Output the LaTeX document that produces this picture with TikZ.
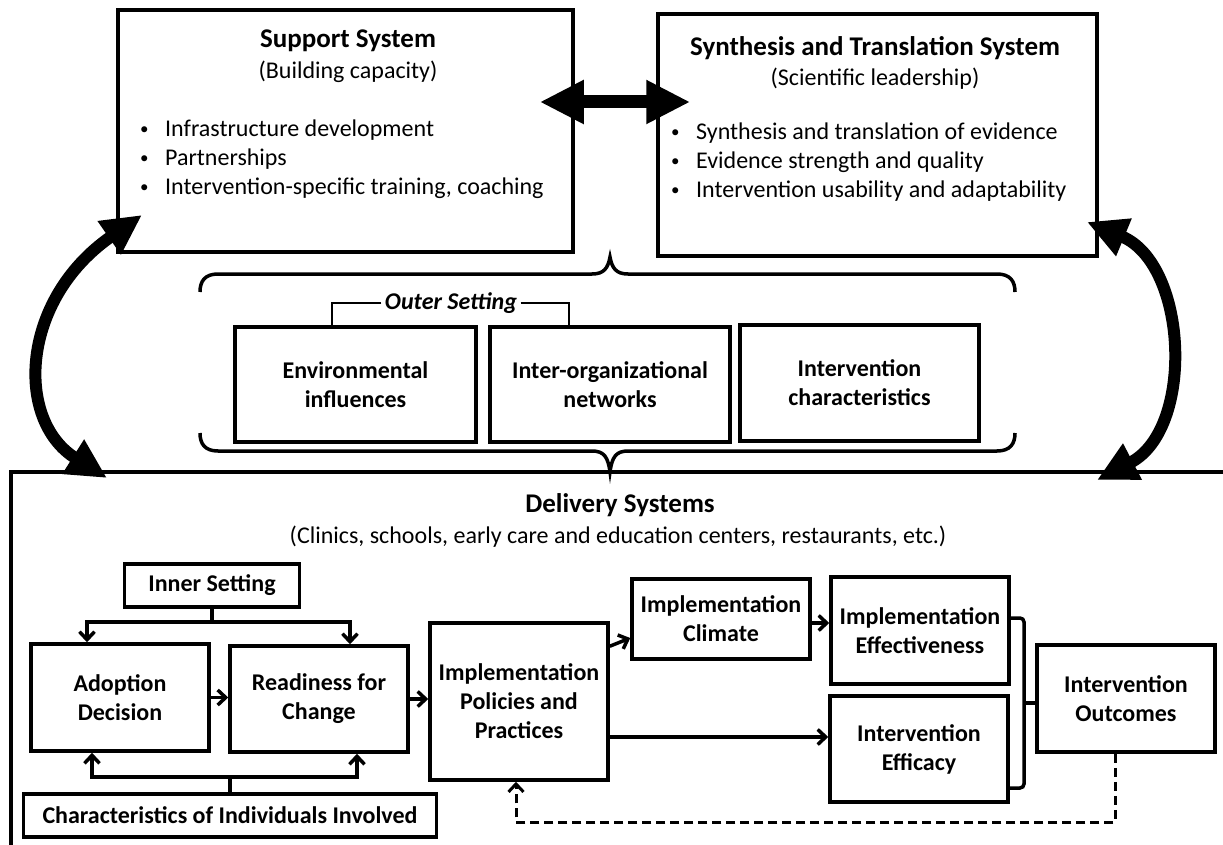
\documentclass[tikz,border=0pt]{standalone}
\usepackage{fontspec}
\setmainfont{Carlito}
\usetikzlibrary{arrows.meta}
\newcommand\myBody{\fontsize{24}{29}\selectfont}
\newcommand\myTitle{\bfseries\fontsize{27}{32}\selectfont}
\newcommand\myBul{\raisebox{2pt}{\fontsize{17}{17}\selectfont •}\hspace{16.5pt}}
\begin{document}
\begin{tikzpicture}[x=1pt,y=-1pt,
  bigbox/.style={draw,line width=3.5pt,inner sep=0pt},
  box/.style={draw,line width=3.5pt,inner sep=0pt,align=center,font=\bfseries\myBody},
  bul/.style={anchor=west,align=left,inner sep=0pt,font=\myBody},
  ln/.style={line width=3.5pt},
  arr/.style={line width=3.5pt,-{Straight Barb[length=8pt,width=15pt]}},
  dsh/.style={line width=3pt,dash pattern=on 9pt off 5pt,-{Straight Barb[length=8pt,width=15pt]}},
  hbl/.style={line width=13pt,{Triangle[length=44pt,width=41pt]}-{Triangle[length=44pt,width=41pt]}},
  cbl/.style={line width=12pt,{Triangle[length=40pt,width=38pt]}-{Triangle[length=40pt,width=38pt]}},
  brc/.style={line width=3.5pt},
]
\useasboundingbox (0,0) rectangle (1223,845);

% top boxes
\node[bigbox, minimum width=455pt, minimum height=242pt] (sup) at (345.5,131) {};
\node[font=\myTitle] (suptitle) at (348,41) {Support System};
\node[font=\myBody] (supsub) at (348,72) {(Building capacity)};
\node[bul] (suplist) at (140,159) {\myBul Infrastructure development\\ \myBul Partnerships\\ \myBul Intervention-specific training, coaching};

\node[bigbox, minimum width=439pt, minimum height=242pt] (syn) at (877.5,135) {};
\node[font=\myTitle] (syntitle) at (875,48) {Synthesis and Translation System};
\node[font=\myBody] (synsub) at (875,79) {(Scientific leadership)};
\node[bul] (synlist) at (671,162.5) {\myBul Synthesis and translation of evidence\\ \myBul Evidence strength and quality\\ \myBul Intervention usability and adaptability};

\coordinate (dy) at (615,102);
\draw[hbl, shorten <=-35pt, shorten >=-34pt] (sup.east |- dy) -- (syn.west |- dy);

% braces
\draw[brc] (200,292) .. controls (200,281) and (205,274) .. (218,274) -- (592,274)
  .. controls (604,274) and (608,268) .. (610,257)
  .. controls (612,268) and (616,274) .. (628,274) -- (997,274)
  .. controls (1010,274) and (1015,281) .. (1015,292);
\draw[brc] (200,433) .. controls (200,444) and (205,451) .. (218,451) -- (592,451)
  .. controls (604,451) and (608,457) .. (610,472)
  .. controls (612,457) and (616,451) .. (628,451) -- (997,451)
  .. controls (1010,451) and (1015,444) .. (1015,433);

% outer setting
\node[box, minimum width=241pt, minimum height=115pt] (env) at (355.5,384.5) {Environmental\\influences};
\node[box, minimum width=240pt, minimum height=115pt] (inter) at (610,384.5) {Inter-organizational\\networks};
\node[box, minimum width=239pt, minimum height=116pt] (ichar) at (859.5,383) {Intervention\\characteristics};
\node[font=\bfseries\itshape\myBody] (outer) at (451,303) {Outer Setting};
\draw[line width=2pt] (outer.west) -| ([xshift=-23.5pt]env.north);
\draw[line width=2pt] (outer.east) -| ([xshift=-41pt]inter.north);

% delivery
\draw[ln] (11,845) -- (11,472) -- (1223,472);
\node[font=\myTitle] (deltitle) at (620,505) {Delivery Systems};
\node[font=\myBody] (delsub) at (618,537) {(Clinics, schools, early care and education centers, restaurants, etc.)};

% curved arrows
\coordinate (lt) at (142,215);
\coordinate (lb) at (107,478);
\draw[cbl] (lb) .. controls (15,420) and (20,300) .. (lt);
\coordinate (rt) at (1087,222);
\coordinate (rb) at (1097,480);
\draw[cbl] (rb) .. controls (1195,429) and (1188,264) .. (rt);

% delivery nodes
\node[box, minimum width=175pt, minimum height=43pt] (inner) at (212,585.5) {Inner Setting};
\node[box, minimum width=178pt, minimum height=107pt] (adopt) at (120,697.5) {Adoption\\Decision};
\node[box, minimum width=178pt, minimum height=106pt] (ready) at (319,699) {Readiness for\\Change};
\node[box, minimum width=178pt, minimum height=157pt] (pol) at (519,701.5) {Implementation\\Policies and\\Practices};
\node[box, minimum width=413pt, minimum height=43pt] (chars) at (230,815.5) {Characteristics of Individuals Involved};
\node[box, minimum width=178pt, minimum height=80pt] (clim) at (721,619) {Implementation\\Climate};
\node[box, minimum width=178pt, minimum height=107pt] (effect) at (920,630.5) {Implementation\\Effectiveness};
\node[box, minimum width=178pt, minimum height=106pt] (effic) at (919,749) {Intervention\\Efficacy};
\node[box, minimum width=178pt, minimum height=107pt] (outc) at (1126,698.5) {Intervention\\Outcomes};

\coordinate (ij) at (inner.south |- 0,622);
\draw[ln] (inner.south) -- (ij);
\draw[arr] (ij) -| ([xshift=-33pt]adopt.north);
\draw[arr] (ij) -| ([xshift=31pt]ready.north);

\coordinate (cj) at (chars.north |- 0,777);
\draw[ln] (chars.north) -- (cj);
\draw[arr] (cj) -| ([xshift=-28pt]adopt.south);
\draw[arr] (cj) -| ([xshift=38pt]ready.south);

\draw[arr] (adopt.east) -- (adopt.east -| ready.west);
\draw[arr] (ready.east) -- (ready.east -| pol.west);
\draw[arr] ([yshift=-25pt]pol.north east) -- ([yshift=-19pt]clim.west);
\draw[arr] ([yshift=-4pt]clim.east) -- ([yshift=-4pt]clim.east -| effect.west);
\coordinate (pe) at ([yshift=-35.5pt]pol.east);
\draw[arr] (pe) -- (pe -| effic.west);

\coordinate (bt) at ([yshift=12.5pt]effect.east);
\coordinate (bb) at ([yshift=-39pt]effic.east);
\coordinate (bx) at (1024,703);
\draw[ln,rounded corners=4pt] (bt) -| (bx) |- (bb);
\draw[ln] (bx) -- (bx -| outc.west);

\coordinate (fb) at (800,822);
\draw[dsh] ([xshift=-11pt]outc.south) |- (fb) -| ([xshift=-3pt]pol.south);
\end{tikzpicture}
\end{document}
